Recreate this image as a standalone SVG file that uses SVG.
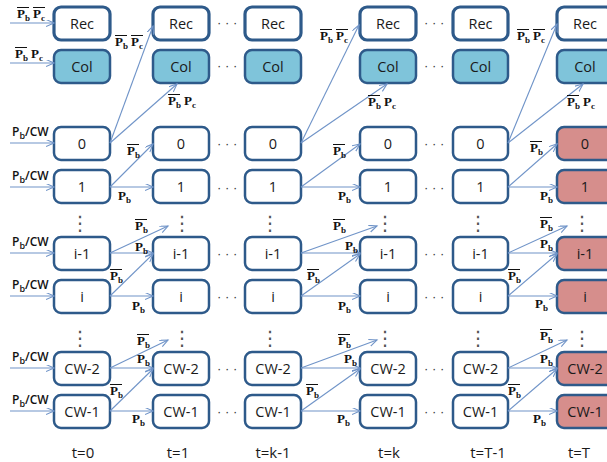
<svg xmlns="http://www.w3.org/2000/svg" xmlns:xlink="http://www.w3.org/1999/xlink" width="607" height="462" viewBox="0 0 607 462">
<style>
.box{stroke:#2E5A8A;stroke-width:2.5;fill:#fff}
.rec{stroke-width:3.2}
.col{fill:#7FC4DA}
.fin{fill:#D68E8C}
.bt{font-family:'Open Sans',sans-serif;font-size:14.5px;text-anchor:middle;fill:#1a1a1a}
.tl{font-family:'Open Sans',sans-serif;font-size:15px;text-anchor:middle;fill:#1a1a1a}
.in{font-family:'Open Sans',sans-serif;font-size:12px;font-weight:600;fill:#111}
.in .s{font-size:9px}
.cn line{stroke:#7094C8;stroke-width:1.1;fill:none;marker-end:url(#ah)}
.m{font-family:'Liberation Serif',serif;font-weight:bold;font-size:13px;fill:#111}
.m .s{font-size:9px}
.ol{stroke:#111;stroke-width:1}
.hd{font-family:'Liberation Sans',sans-serif;font-size:13px;fill:#333}
.vd{font-family:'DejaVu Sans',sans-serif;font-size:20px;fill:#555;text-anchor:middle}
</style>
<defs>
<marker id="ah" markerUnits="userSpaceOnUse" markerWidth="10" markerHeight="8" refX="8" refY="3.5" orient="auto">
<path d="M0,0 L8,3.5 L0,7" fill="none" stroke="#7094C8" stroke-width="1.1"/>
</marker>
<g id="pb"><text class="m">P<tspan class="s" dy="3">b</tspan></text></g>
<g id="pbb"><text class="m">P<tspan class="s" dy="3">b</tspan></text><line class="ol" x1="0" y1="-10.5" x2="12" y2="-10.5"/></g>
<g id="pc"><text class="m">P<tspan class="s" dy="3">c</tspan></text></g>
<g id="pcb"><text class="m">P<tspan class="s" dy="3">c</tspan></text><line class="ol" x1="0" y1="-10.5" x2="12" y2="-10.5"/></g>
</defs>

<!-- nodes: t=0 -->
<g id="rec-t0"><rect class="box rec" x="54" y="7" width="56" height="33" rx="7"/><text class="bt" x="82" y="29">Rec</text></g>
<g id="col-t0"><rect class="box col" x="54" y="50" width="56" height="33" rx="7"/><text class="bt" x="82" y="72">Col</text></g>
<g id="n0-t0"><rect class="box" x="54" y="127" width="56" height="33" rx="7"/><text class="bt" x="82" y="149">0</text></g>
<g id="n1-t0"><rect class="box" x="54" y="170" width="56" height="33" rx="7"/><text class="bt" x="82" y="192">1</text></g>
<g id="nim1-t0"><rect class="box" x="54" y="237" width="56" height="33" rx="7"/><text class="bt" x="82" y="259">i-1</text></g>
<g id="ni-t0"><rect class="box" x="54" y="280" width="56" height="33" rx="7"/><text class="bt" x="82" y="302">i</text></g>
<g id="ncw2-t0"><rect class="box" x="54" y="352" width="56" height="33" rx="7"/><text class="bt" x="82" y="374">CW-2</text></g>
<g id="ncw1-t0"><rect class="box" x="54" y="395" width="56" height="33" rx="7"/><text class="bt" x="82" y="417">CW-1</text></g>

<!-- t=1 -->
<g id="rec-t1"><rect class="box rec" x="153" y="7" width="56" height="33" rx="7"/><text class="bt" x="181" y="29">Rec</text></g>
<g id="col-t1"><rect class="box col" x="153" y="50" width="56" height="33" rx="7"/><text class="bt" x="181" y="72">Col</text></g>
<g id="n0-t1"><rect class="box" x="153" y="127" width="56" height="33" rx="7"/><text class="bt" x="181" y="149">0</text></g>
<g id="n1-t1"><rect class="box" x="153" y="170" width="56" height="33" rx="7"/><text class="bt" x="181" y="192">1</text></g>
<g id="nim1-t1"><rect class="box" x="153" y="237" width="56" height="33" rx="7"/><text class="bt" x="181" y="259">i-1</text></g>
<g id="ni-t1"><rect class="box" x="153" y="280" width="56" height="33" rx="7"/><text class="bt" x="181" y="302">i</text></g>
<g id="ncw2-t1"><rect class="box" x="153" y="352" width="56" height="33" rx="7"/><text class="bt" x="181" y="374">CW-2</text></g>
<g id="ncw1-t1"><rect class="box" x="153" y="395" width="56" height="33" rx="7"/><text class="bt" x="181" y="417">CW-1</text></g>

<!-- t=k-1 -->
<g id="rec-tkm1"><rect class="box rec" x="245" y="7" width="56" height="33" rx="7"/><text class="bt" x="273" y="29">Rec</text></g>
<g id="col-tkm1"><rect class="box col" x="245" y="50" width="56" height="33" rx="7"/><text class="bt" x="273" y="72">Col</text></g>
<g id="n0-tkm1"><rect class="box" x="245" y="127" width="56" height="33" rx="7"/><text class="bt" x="273" y="149">0</text></g>
<g id="n1-tkm1"><rect class="box" x="245" y="170" width="56" height="33" rx="7"/><text class="bt" x="273" y="192">1</text></g>
<g id="nim1-tkm1"><rect class="box" x="245" y="237" width="56" height="33" rx="7"/><text class="bt" x="273" y="259">i-1</text></g>
<g id="ni-tkm1"><rect class="box" x="245" y="280" width="56" height="33" rx="7"/><text class="bt" x="273" y="302">i</text></g>
<g id="ncw2-tkm1"><rect class="box" x="245" y="352" width="56" height="33" rx="7"/><text class="bt" x="273" y="374">CW-2</text></g>
<g id="ncw1-tkm1"><rect class="box" x="245" y="395" width="56" height="33" rx="7"/><text class="bt" x="273" y="417">CW-1</text></g>

<!-- t=k -->
<g id="rec-tk"><rect class="box rec" x="360" y="7" width="56" height="33" rx="7"/><text class="bt" x="388" y="29">Rec</text></g>
<g id="col-tk"><rect class="box col" x="360" y="50" width="56" height="33" rx="7"/><text class="bt" x="388" y="72">Col</text></g>
<g id="n0-tk"><rect class="box" x="360" y="127" width="56" height="33" rx="7"/><text class="bt" x="388" y="149">0</text></g>
<g id="n1-tk"><rect class="box" x="360" y="170" width="56" height="33" rx="7"/><text class="bt" x="388" y="192">1</text></g>
<g id="nim1-tk"><rect class="box" x="360" y="237" width="56" height="33" rx="7"/><text class="bt" x="388" y="259">i-1</text></g>
<g id="ni-tk"><rect class="box" x="360" y="280" width="56" height="33" rx="7"/><text class="bt" x="388" y="302">i</text></g>
<g id="ncw2-tk"><rect class="box" x="360" y="352" width="56" height="33" rx="7"/><text class="bt" x="388" y="374">CW-2</text></g>
<g id="ncw1-tk"><rect class="box" x="360" y="395" width="56" height="33" rx="7"/><text class="bt" x="388" y="417">CW-1</text></g>

<!-- t=T-1 -->
<g id="rec-tTm1"><rect class="box rec" x="453" y="7" width="55" height="33" rx="7"/><text class="bt" x="480.5" y="29">Rec</text></g>
<g id="col-tTm1"><rect class="box col" x="453" y="50" width="55" height="33" rx="7"/><text class="bt" x="480.5" y="72">Col</text></g>
<g id="n0-tTm1"><rect class="box" x="453" y="127" width="55" height="33" rx="7"/><text class="bt" x="480.5" y="149">0</text></g>
<g id="n1-tTm1"><rect class="box" x="453" y="170" width="55" height="33" rx="7"/><text class="bt" x="480.5" y="192">1</text></g>
<g id="nim1-tTm1"><rect class="box" x="453" y="237" width="55" height="33" rx="7"/><text class="bt" x="480.5" y="259">i-1</text></g>
<g id="ni-tTm1"><rect class="box" x="453" y="280" width="55" height="33" rx="7"/><text class="bt" x="480.5" y="302">i</text></g>
<g id="ncw2-tTm1"><rect class="box" x="453" y="352" width="55" height="33" rx="7"/><text class="bt" x="480.5" y="374">CW-2</text></g>
<g id="ncw1-tTm1"><rect class="box" x="453" y="395" width="55" height="33" rx="7"/><text class="bt" x="480.5" y="417">CW-1</text></g>

<!-- t=T -->
<g id="rec-tT"><rect class="box rec" x="557" y="7" width="56" height="33" rx="7"/><text class="bt" x="585" y="29">Rec</text></g>
<g id="col-tT"><rect class="box col" x="557" y="50" width="56" height="33" rx="7"/><text class="bt" x="585" y="72">Col</text></g>
<g id="n0-tT"><rect class="box fin" x="557" y="127" width="56" height="33" rx="7"/><text class="bt" x="585" y="149">0</text></g>
<g id="n1-tT"><rect class="box fin" x="557" y="170" width="56" height="33" rx="7"/><text class="bt" x="585" y="192">1</text></g>
<g id="nim1-tT"><rect class="box fin" x="557" y="237" width="56" height="33" rx="7"/><text class="bt" x="585" y="259">i-1</text></g>
<g id="ni-tT"><rect class="box fin" x="557" y="280" width="56" height="33" rx="7"/><text class="bt" x="585" y="302">i</text></g>
<g id="ncw2-tT"><rect class="box fin" x="557" y="352" width="56" height="33" rx="7"/><text class="bt" x="585" y="374">CW-2</text></g>
<g id="ncw1-tT"><rect class="box fin" x="557" y="395" width="56" height="33" rx="7"/><text class="bt" x="585" y="417">CW-1</text></g>

<!-- connectors -->
<g id="connectors" class="cn">
<line x1="10" y1="23" x2="54" y2="23"/>
<line x1="10" y1="63" x2="54" y2="63"/>
<line x1="10" y1="143" x2="54" y2="143"/>
<line x1="10" y1="187" x2="54" y2="187"/>
<line x1="10" y1="253" x2="54" y2="253"/>
<line x1="10" y1="296" x2="54" y2="296"/>
<line x1="10" y1="368" x2="54" y2="368"/>
<line x1="10" y1="411" x2="54" y2="411"/>

<line x1="110" y1="143" x2="153" y2="26"/>
<line x1="110" y1="143" x2="177" y2="84"/>
<line x1="110" y1="187" x2="153" y2="144"/>
<line x1="110" y1="187" x2="153" y2="187"/>
<line x1="110" y1="253" x2="168" y2="226"/>
<line x1="110" y1="253" x2="153" y2="253"/>
<line x1="110" y1="296" x2="153" y2="254"/>
<line x1="110" y1="296" x2="153" y2="296"/>
<line x1="110" y1="368" x2="168" y2="340"/>
<line x1="110" y1="368" x2="153" y2="368"/>
<line x1="110" y1="411" x2="153" y2="369"/>
<line x1="110" y1="411" x2="153" y2="411"/>

<line x1="301" y1="143" x2="359" y2="25"/>
<line x1="301" y1="143" x2="387" y2="84"/>
<line x1="301" y1="187" x2="360" y2="144"/>
<line x1="301" y1="187" x2="360" y2="187"/>
<line x1="301" y1="253" x2="377" y2="226"/>
<line x1="301" y1="253" x2="360" y2="253"/>
<line x1="301" y1="296" x2="360" y2="254"/>
<line x1="301" y1="296" x2="360" y2="296"/>
<line x1="301" y1="368" x2="377" y2="340"/>
<line x1="301" y1="368" x2="360" y2="368"/>
<line x1="301" y1="411" x2="360" y2="369"/>
<line x1="301" y1="411" x2="360" y2="411"/>

<line x1="508" y1="143" x2="557" y2="24"/>
<line x1="508" y1="143" x2="583" y2="84"/>
<line x1="508" y1="187" x2="557" y2="144"/>
<line x1="508" y1="187" x2="557" y2="187"/>
<line x1="508" y1="253" x2="567" y2="226"/>
<line x1="508" y1="253" x2="557" y2="253"/>
<line x1="508" y1="296" x2="557" y2="254"/>
<line x1="508" y1="296" x2="557" y2="296"/>
<line x1="508" y1="368" x2="567" y2="340"/>
<line x1="508" y1="368" x2="557" y2="368"/>
<line x1="508" y1="411" x2="557" y2="369"/>
<line x1="508" y1="411" x2="557" y2="411"/>
</g>

<!-- input labels -->
<g id="input-labels">
<use xlink:href="#pbb" x="17" y="18"/><use xlink:href="#pcb" x="33" y="18"/>
<use xlink:href="#pbb" x="15" y="58"/><use xlink:href="#pc" x="31" y="58"/>
<text class="in" x="12" y="136">P<tspan class="s" dy="3">b</tspan><tspan dy="-3">/CW</tspan></text>
<text class="in" x="12" y="180">P<tspan class="s" dy="3">b</tspan><tspan dy="-3">/CW</tspan></text>
<text class="in" x="12" y="246">P<tspan class="s" dy="3">b</tspan><tspan dy="-3">/CW</tspan></text>
<text class="in" x="12" y="289">P<tspan class="s" dy="3">b</tspan><tspan dy="-3">/CW</tspan></text>
<text class="in" x="12" y="361">P<tspan class="s" dy="3">b</tspan><tspan dy="-3">/CW</tspan></text>
<text class="in" x="12" y="404">P<tspan class="s" dy="3">b</tspan><tspan dy="-3">/CW</tspan></text>
</g>

<!-- transition labels -->
<g id="labels-t1">
<use xlink:href="#pbb" x="115" y="46"/><use xlink:href="#pcb" x="131" y="46"/>
<use xlink:href="#pbb" x="168" y="105"/><use xlink:href="#pc" x="184" y="105"/>
<use xlink:href="#pbb" x="127" y="155"/>
<use xlink:href="#pb" x="118" y="200"/>
<use xlink:href="#pbb" x="135" y="230"/>
<use xlink:href="#pb" x="135" y="251"/>
<use xlink:href="#pbb" x="110" y="280"/>
<use xlink:href="#pb" x="132" y="310"/>
<use xlink:href="#pbb" x="137" y="345"/>
<use xlink:href="#pb" x="137" y="363"/>
<use xlink:href="#pbb" x="110" y="395"/>
<use xlink:href="#pb" x="132" y="423"/>
</g>
<g id="labels-tk">
<use xlink:href="#pbb" x="320" y="40"/><use xlink:href="#pcb" x="336" y="40"/>
<use xlink:href="#pbb" x="368" y="106"/><use xlink:href="#pc" x="384" y="106"/>
<use xlink:href="#pbb" x="333" y="155"/>
<use xlink:href="#pb" x="338" y="200"/>
<use xlink:href="#pbb" x="333" y="230"/>
<use xlink:href="#pb" x="345" y="250"/>
<use xlink:href="#pbb" x="307" y="280"/>
<use xlink:href="#pb" x="338" y="310"/>
<use xlink:href="#pbb" x="338" y="345"/>
<use xlink:href="#pb" x="344" y="363"/>
<use xlink:href="#pbb" x="306" y="395"/>
<use xlink:href="#pb" x="337" y="423"/>
</g>
<g id="labels-tT">
<use xlink:href="#pbb" x="517" y="40"/><use xlink:href="#pcb" x="533" y="40"/>
<use xlink:href="#pbb" x="567" y="106"/><use xlink:href="#pc" x="583" y="106"/>
<use xlink:href="#pbb" x="530" y="152"/>
<use xlink:href="#pb" x="540" y="200"/>
<use xlink:href="#pbb" x="540" y="228"/>
<use xlink:href="#pb" x="540" y="248"/>
<use xlink:href="#pbb" x="508" y="280"/>
<use xlink:href="#pb" x="535" y="308"/>
<use xlink:href="#pbb" x="540" y="340"/>
<use xlink:href="#pb" x="540" y="363"/>
<use xlink:href="#pbb" x="508" y="395"/>
<use xlink:href="#pb" x="533" y="423"/>
</g>

<!-- ellipses -->
<g id="hdots">
<text class="hd" x="217" y="27">· · ·</text><text class="hd" x="424" y="27">· · ·</text>
<text class="hd" x="217" y="70">· · ·</text><text class="hd" x="424" y="70">· · ·</text>
<text class="hd" x="217" y="148">· · ·</text><text class="hd" x="424" y="148">· · ·</text>
<text class="hd" x="217" y="192">· · ·</text><text class="hd" x="424" y="192">· · ·</text>
<text class="hd" x="217" y="258">· · ·</text><text class="hd" x="424" y="258">· · ·</text>
<text class="hd" x="217" y="301">· · ·</text><text class="hd" x="424" y="301">· · ·</text>
<text class="hd" x="217" y="373">· · ·</text><text class="hd" x="424" y="373">· · ·</text>
<text class="hd" x="217" y="416">· · ·</text><text class="hd" x="424" y="416">· · ·</text>
</g>
<g id="vdots">
<text class="vd" x="80" y="230">⋮</text><text class="vd" x="182" y="230">⋮</text><text class="vd" x="270" y="230">⋮</text><text class="vd" x="385" y="230">⋮</text><text class="vd" x="478" y="230">⋮</text><text class="vd" x="582" y="230">⋮</text>
<text class="vd" x="80" y="345">⋮</text><text class="vd" x="182" y="345">⋮</text><text class="vd" x="270" y="345">⋮</text><text class="vd" x="385" y="345">⋮</text><text class="vd" x="478" y="345">⋮</text><text class="vd" x="582" y="345">⋮</text>
</g>

<!-- time labels -->
<g id="time-labels">
<text class="tl" x="83" y="458">t=0</text>
<text class="tl" x="178" y="458">t=1</text>
<text class="tl" x="273" y="458">t=k-1</text>
<text class="tl" x="389" y="458">t=k</text>
<text class="tl" x="488" y="458">t=T-1</text>
<text class="tl" x="579" y="458">t=T</text>
</g>
</svg>
